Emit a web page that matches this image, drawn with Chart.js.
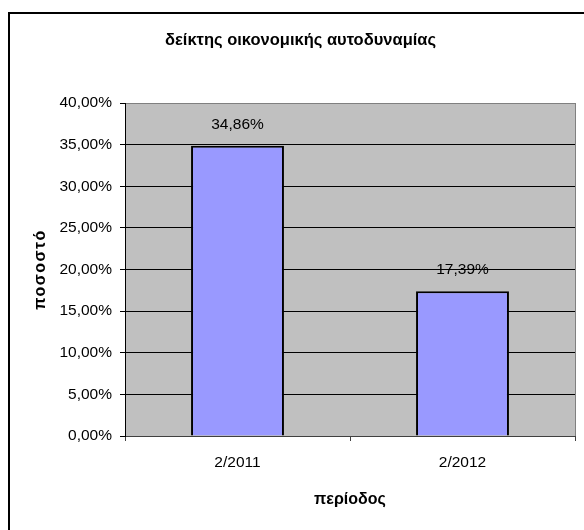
<!DOCTYPE html>
<html>
<head>
<meta charset="utf-8">
<script src="https://cdn.jsdelivr.net/npm/chart.js@4/dist/chart.umd.min.js"></script>
<style>
  html, body { margin: 0; padding: 0; background: #ffffff; }
  #wrap { width: 584px; height: 530px; position: relative; }
</style>
</head>
<body>
<div id="wrap"><canvas id="c" width="584" height="530"></canvas></div>
<script>
// Chart data
const categories = ['2/2011', '2/2012'];
const values = [34.86, 17.39];          // percent
const yMin = 0;
const yMax = 40;
const yStep = 5;

// Texts
const chartTitle = 'δείκτης οικονομικής αυτοδυναμίας';
const xTitle = 'περίοδος';
const yTitle = 'ποσοστό';

const FONT = "'Liberation Sans', Arial, sans-serif";
const pct = v => Number(v).toFixed(2).replace('.', ',') + '%';

// Page frame, grey plot area, right edge of the plot, value labels and the y title
const decorations = {
  id: 'decorations',
  beforeDraw(chart) {
    const { ctx, chartArea: a } = chart;
    ctx.save();
    ctx.fillStyle = '#ffffff';
    ctx.fillRect(0, 0, chart.width, chart.height);
    ctx.fillStyle = '#000000';
    ctx.fillRect(8, 12, 2, chart.height);
    ctx.fillRect(8, 12, chart.width, 2);
    ctx.fillStyle = '#C0C0C0';
    ctx.fillRect(a.left, a.top, a.right - a.left, a.bottom - a.top);
    ctx.restore();
  },
  afterDatasetsDraw(chart) {
    const { ctx, chartArea: a } = chart;
    ctx.save();
    ctx.strokeStyle = '#808080';
    ctx.lineWidth = 1;
    ctx.beginPath();
    ctx.moveTo(a.right + 0.5, a.top);
    ctx.lineTo(a.right + 0.5, a.bottom);
    ctx.stroke();

    ctx.fillStyle = '#000000';
    ctx.font = '15.5px ' + FONT;
    ctx.textAlign = 'center';
    ctx.textBaseline = 'middle';
    const meta = chart.getDatasetMeta(0);
    meta.data.forEach((bar, i) => {
      ctx.fillText(pct(chart.data.datasets[0].data[i]), bar.x, bar.y - 21.5);
    });

    ctx.translate(41, (a.top + a.bottom) / 2);
    ctx.rotate(-Math.PI / 2);
    ctx.font = 'bold 16px ' + FONT;
    ctx.letterSpacing = '1.5px';
    ctx.fillText(yTitle, 0, 0);
    ctx.restore();
  }
};

new Chart(document.getElementById('c'), {
  type: 'bar',
  data: {
    labels: categories,
    datasets: [{
      data: values,
      backgroundColor: '#9999FF',
      borderColor: '#000000',
      borderWidth: 2,
      categoryPercentage: 1,
      barPercentage: 0.413
    }]
  },
  options: {
    responsive: false,
    animation: false,
    devicePixelRatio: 1,
    layout: { padding: { left: 26, right: 9, top: 0, bottom: 0 } },
    plugins: {
      legend: { display: false },
      tooltip: { enabled: false },
      title: {
        display: true,
        text: chartTitle,
        color: '#000000',
        font: { family: FONT, size: 16.5, weight: 'bold', lineHeight: '18px' },
        padding: { top: 31, bottom: 54 }
      }
    },
    scales: {
      x: {
        afterFit(scale) { scale.height = 94; },
        grid: {
          offset: true,
          drawOnChartArea: false,
          drawTicks: true,
          tickLength: 5,
          color: '#404040'
        },
        border: { display: true, color: '#404040', width: 1 },
        ticks: {
          color: '#000000',
          padding: 12,
          font: { family: FONT, size: 15.5 }
        },
        title: {
          display: true,
          text: xTitle,
          color: '#000000',
          font: { family: FONT, size: 16, weight: 'bold', lineHeight: '18px' },
          padding: { top: 0, bottom: 21 }
        }
      },
      y: {
        min: yMin,
        max: yMax,
        afterFit(scale) { scale.width = 99; },
        grid: {
          color: ctx => (ctx.tick && ctx.tick.value === yMax) ? '#808080'
                      : (ctx.tick && ctx.tick.value === yMin) ? '#404040' : '#000000',
          tickColor: '#000000',
          tickLength: 5,
          lineWidth: 1
        },
        border: { display: true, color: '#000000', width: 1 },
        ticks: {
          stepSize: yStep,
          color: '#000000',
          padding: 8,
          font: { family: FONT, size: 15.5 },
          callback: v => pct(v)
        }
      }
    }
  },
  plugins: [decorations]
});
</script>
</body>
</html>
